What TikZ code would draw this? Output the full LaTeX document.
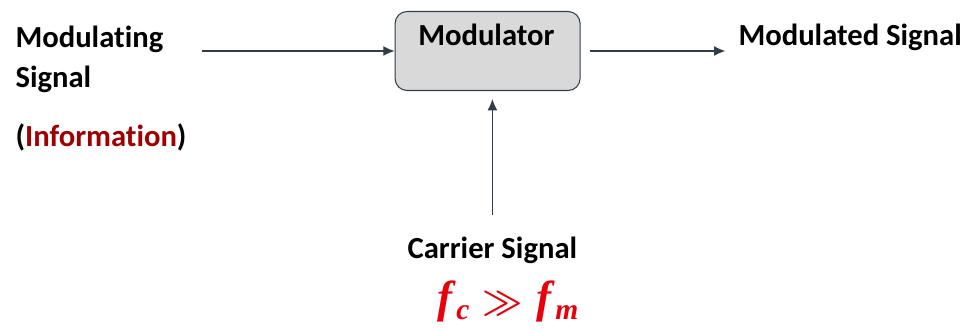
\documentclass[tikz,border=0pt]{standalone}
\usepackage{fontspec}
\setmainfont{Carlito}[Ligatures=CommonOff]
\newfontfamily\formfont{Liberation Serif}
\usetikzlibrary{arrows.meta}
\definecolor{myLine}{HTML}{2F3E4A}
\definecolor{myGray}{HTML}{D9D9D9}
\definecolor{myDarkRed}{HTML}{A00000}
\definecolor{myRed}{HTML}{E8000B}
\newcommand{\sub}[1]{\kern0.08em\raisebox{-0.35ex}{\fontsize{21}{21}\selectfont #1}}

\begin{document}
\begin{tikzpicture}[>={Latex[length=8pt,width=7pt]}, line width=0.75pt, ->, myLine]

  \tikzstyle{M}=[rectangle, rounded corners=0.3cm, draw=myLine, fill=myGray, minimum width=4.625cm, minimum height=1.975cm, inner sep=0pt]
  \tikzstyle{T}=[text=black, font=\fontsize{21.8}{26}\selectfont\bfseries, inner sep=0pt]
  \tikzstyle{F}=[text=myRed, font=\fontsize{32}{36}\selectfont\formfont\bfseries\itshape, inner sep=0pt]

  \useasboundingbox (0,0) rectangle (24.2,-8.275);

  % left side
  \node[T, anchor=base west] at (0.375,-1.175) (modulating) {Modulating};
  \node[T, anchor=base west] at (0.375,-2.175) (signal) {Signal};
  \node[T, anchor=base west] at (0.375,-3.65) (info) {(\textcolor{myDarkRed}{Information})};
  \coordinate (modin) at (5.05,-1.275);

  % block
  \node[M] at (12.19,-1.275) (modulator) {};
  \node[T, anchor=base] at (12.16,-1.125) (modlabel) {Modulator};

  % right side
  \node[T, anchor=base west] at (18.45,-1.125) (modulated) {Modulated Signal};

  % carrier
  \node[T, anchor=base] at (12.31,-6.45) (carrier) {Carrier Signal};
  \node[F, anchor=base] at (12.7,-7.8) (freq) {f\sub{c}\hspace{0.3em}{\Huge\boldmath$\gg$}\hspace{0.3em}f\sub{m}};

  \draw [] (modin) to (modulator.west);
  \draw [shorten <=7pt, shorten >=9pt] (modulator.east) to (modulated.west |- modulator.east);
  \draw [shorten <=15pt, shorten >=5.7pt] (carrier.north) to (carrier.north |- modulator.south);

\end{tikzpicture}
\end{document}
